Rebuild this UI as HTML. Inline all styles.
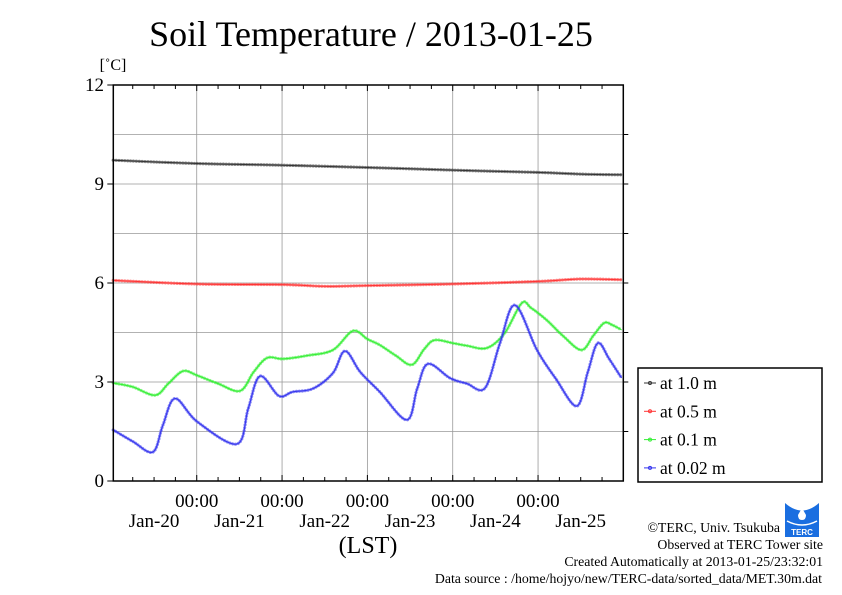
<!DOCTYPE html>
<html><head><meta charset="utf-8"><style>
html,body{margin:0;padding:0;background:#fff}
svg{display:block;font-family:"Liberation Serif",serif}
</style></head><body>
<svg id="chart" width="842" height="595" viewBox="0 0 842 595" xmlns="http://www.w3.org/2000/svg">
<text x="371" y="46" font-size="36" text-anchor="middle">Soil Temperature / 2013-01-25</text>
<text x="113" y="70" font-size="16" text-anchor="middle">[˚C]</text>
<g id="grid"></g>
<g id="series"></g>
<g id="axes"></g>
<text x="368" y="553" font-size="24" text-anchor="middle">(LST)</text>
<g>
<rect x="638" y="368" width="184" height="114" fill="#fff" stroke="#000" stroke-width="1.5"/>
<g id="legend-entries"></g>
</g>
<g font-size="13.8" text-anchor="end">
<text x="780" y="532">©TERC, Univ. Tsukuba</text>
<text x="823" y="549">Observed at TERC Tower site</text>
<text x="823" y="566">Created Automatically at 2013-01-25/23:32:01</text>
<text x="822" y="583">Data source : /home/hojyo/new/TERC-data/sorted_data/MET.30m.dat</text>
</g>
<g>
<rect x="785" y="503" width="34" height="34" fill="#1a6ee0"/>
<path d="M785 503 Q802 518 819 503" fill="#fff"/>
<path d="M798 515 L802 508 L806 515 Q806 520 802 520 Q798 520 798 515Z" fill="#fff"/>
<path d="M787 521 Q802 529 817 521" stroke="#fff" fill="none" stroke-width="1.5"/>
<text x="802" y="535" font-size="8" fill="#fff" text-anchor="middle" font-family="Liberation Sans,sans-serif" font-weight="bold">TERC</text>
</g>
</svg>
<script>
// Data (hours since Jan-20 00:00 as plotted ; temperatures °C)
const blueHours = [0.5,6,11.7,14.5,17.9,24.1,35.3,38.5,41.8,47.1,51,56.7,62.3,65.7,70,75.5,83.1,86,89,95.2,100,105.1,109.3,113.5,119.7,125,130.9,134,136.8,140,143.5];
const blueVals  = [1.55,1.2,0.88,1.7,2.5,1.8,1.12,2.2,3.18,2.58,2.7,2.8,3.27,3.94,3.3,2.7,1.85,2.8,3.55,3.12,2.95,2.82,4.18,5.33,3.97,3.1,2.27,3.3,4.18,3.7,3.12];
const greenHours = [0.5,6,12.3,16,20.1,24.1,30,36.2,40,43.8,48.3,55,62.3,67.9,72,75.5,80,84.5,88,90.9,96,100,105.6,110.6,115.4,118,122.4,127,132.2,135.5,138.6,141,143.5];
const greenVals  = [2.97,2.85,2.6,2.95,3.33,3.2,2.95,2.73,3.3,3.73,3.7,3.8,3.97,4.55,4.3,4.12,3.8,3.52,4.0,4.27,4.18,4.1,4.03,4.48,5.39,5.25,4.88,4.4,3.97,4.4,4.79,4.72,4.58];
const redHours = [0.5,24,48,60,72,96,120,132,143.5];
const redVals  = [6.08,5.97,5.95,5.9,5.92,5.97,6.05,6.12,6.1];
const blackHours = [0.5,24,48,72,96,120,132,143.5];
const blackVals  = [9.72,9.62,9.57,9.5,9.42,9.35,9.3,9.28];
const yTicks = [0,3,6,9,12];
const dayLabels = ["Jan-20","Jan-21","Jan-22","Jan-23","Jan-24","Jan-25"];
const legendLabels = ["at 1.0 m","at 0.5 m","at 0.1 m","at 0.02 m"];

const NS="http://www.w3.org/2000/svg";
const L=113.3,R=623.3,T=85,B=481;
const x=h=>111.4+h*85.33/24;
const y=v=>B-(B-T)*v/12;
function mk(tag,attrs,parent){const e=document.createElementNS(NS,tag);for(const k in attrs)e.setAttribute(k,attrs[k]);parent.appendChild(e);return e;}
function smooth(pts){let d='M'+pts[0][0].toFixed(1)+' '+pts[0][1].toFixed(1);
for(let i=0;i<pts.length-1;i++){const p0=pts[i-1]||pts[i],p1=pts[i],p2=pts[i+1],p3=pts[i+2]||p2;
const c1=[p1[0]+(p2[0]-p0[0])/6,p1[1]+(p2[1]-p0[1])/6],c2=[p2[0]-(p3[0]-p1[0])/6,p2[1]-(p3[1]-p1[1])/6];
d+=`C${c1[0].toFixed(1)} ${c1[1].toFixed(1)} ${c2[0].toFixed(1)} ${c2[1].toFixed(1)} ${p2[0].toFixed(1)} ${p2[1].toFixed(1)}`;}
return d;}
const grid=document.getElementById('grid'),axes=document.getElementById('axes'),ser=document.getElementById('series');
for(let v=1.5;v<12;v+=1.5){const l=mk('line',{x1:L,x2:R,y1:y(v),y2:y(v),stroke:'#999','stroke-width':0.8},grid);


const t=mk('line',{x1:R,x2:R+5,y1:y(v),y2:y(v),stroke:'#000','stroke-width':1},axes);

}
for(let h=24;h<144;h+=24){const l=mk('line',{x1:x(h),x2:x(h),y1:T,y2:B,stroke:'#999','stroke-width':0.8},grid);


const t=mk('text',{x:x(h),y:507,'font-size':19,'text-anchor':'middle'},axes);t.textContent='00:00';

}
for(let h=6;h<144;h+=6){const big=h%24===0;
[[B,B-(big?6:4)],[T,T+(big?6:4)]].forEach(p=>{const t=mk('line',{x1:x(h),x2:x(h),y1:p[0],y2:p[1],stroke:'#000','stroke-width':1},axes);

});}
dayLabels.forEach((d,i)=>{const t=mk('text',{x:x(12+24*i),y:527,'font-size':19,'text-anchor':'middle'},axes);t.textContent=d;

});
yTicks.forEach(v=>{const t=mk('text',{x:104,y:y(v)+6,'font-size':19,'text-anchor':'end'},axes);t.textContent=v;


const k=mk('line',{x1:L-6,x2:L,y1:y(v),y2:y(v),stroke:'#000','stroke-width':1},axes);

});
const frame=mk('path',{d:`M${L} ${T}H${R}V${B}H${L}Z`,fill:'none',stroke:'#000','stroke-width':1.5},axes);


const series=[[blackHours,blackVals,'#333','depth-1-0m'],[redHours,redVals,'#f33','depth-0-5m'],[greenHours,greenVals,'#3e3','depth-0-1m'],[blueHours,blueVals,'#33e','depth-0-02m']];
series.forEach(s=>{const d=smooth(s[0].map((h,i)=>[x(h),y(s[1][i])]));
const p=mk('path',{d,fill:'none',stroke:s[2],'stroke-width':1,'stroke-linejoin':'round'},ser);


const m=mk('path',{d,fill:'none',stroke:s[2],'stroke-width':3.2,'stroke-dasharray':'0.1 2.8','stroke-linecap':'round','stroke-opacity':0.6},ser);

});
const le=document.getElementById('legend-entries');
legendLabels.forEach((lab,i)=>{const yy=383+i*28.3;const c=series[i][2];
const g=mk('g',{},le);


mk('line',{x1:644,x2:656,y1:yy,y2:yy,stroke:c,'stroke-width':1},g);
mk('circle',{cx:650,cy:yy,r:1.5,fill:'none',stroke:c,'stroke-width':1},g);
const t=mk('text',{x:660,y:yy+6,'font-size':17.5},g);t.textContent=lab;});
</script>
</body></html>
